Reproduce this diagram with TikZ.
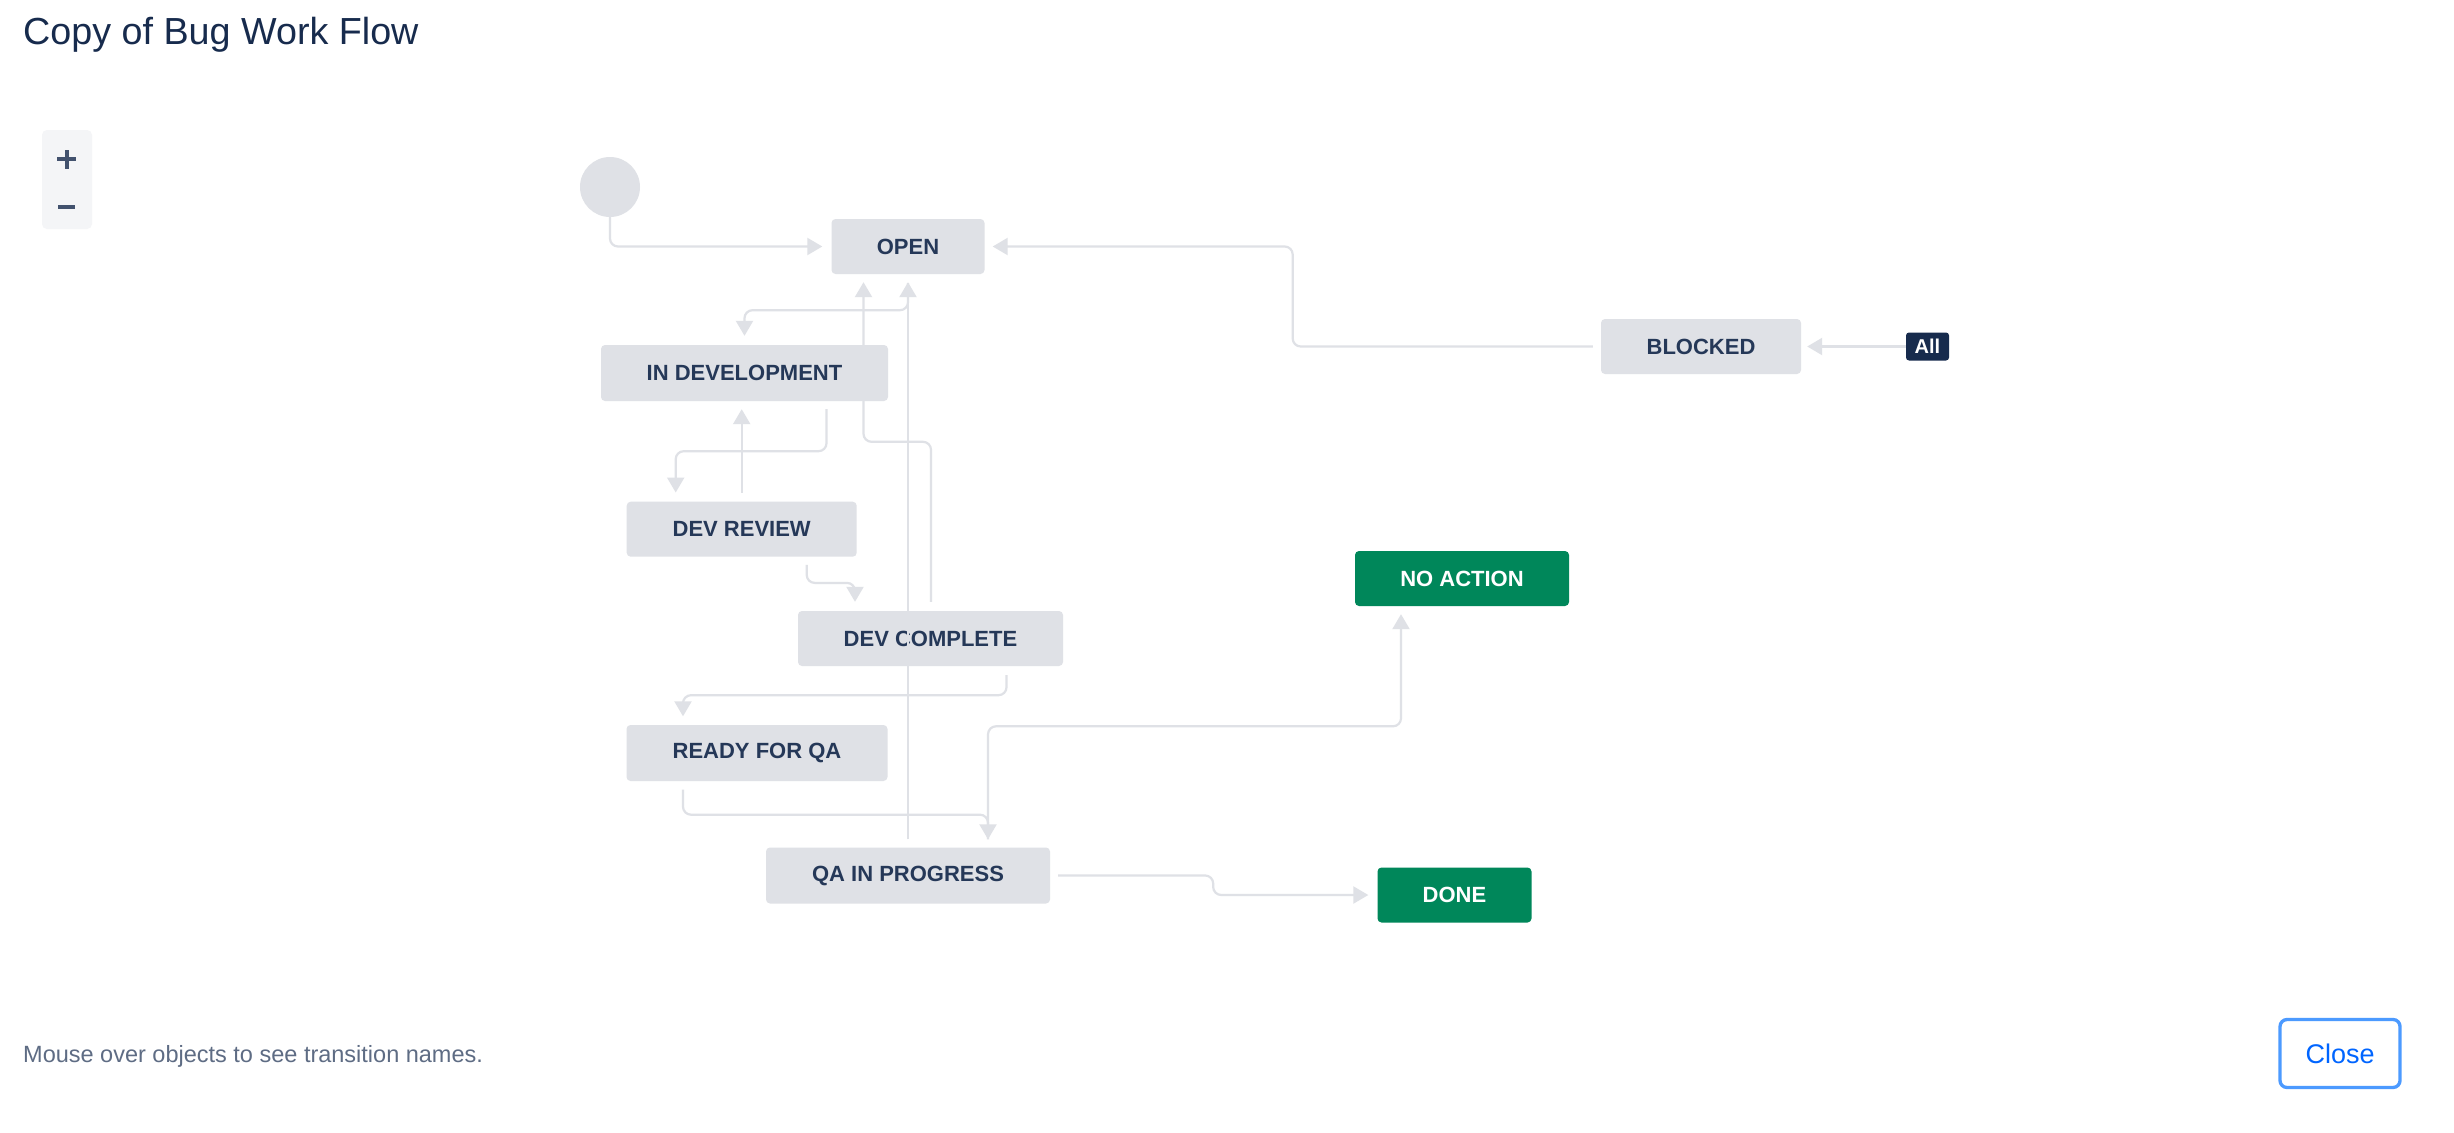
\documentclass[tikz,border=0pt]{standalone}
\usepackage{fontspec}
\setmainfont{Liberation Sans}
\usetikzlibrary{arrows.meta,calc}
\definecolor{boxgray}{HTML}{DFE1E6}
\definecolor{edgegray}{HTML}{DFE1E6}
\definecolor{navy}{HTML}{172B4D}
\definecolor{stext}{HTML}{253858}
\definecolor{jgreen}{HTML}{00875A}
\definecolor{hintgray}{HTML}{5E6C84}
\definecolor{btnblue}{HTML}{4C9AFF}
\definecolor{btntext}{HTML}{0065FF}
\definecolor{ctrlbg}{HTML}{F4F5F7}
\definecolor{ctrlfg}{HTML}{42526E}
\tikzset{
  status/.style={rectangle, rounded corners=4pt, fill=boxgray, text=stext,
    font=\fontsize{22pt}{26pt}\selectfont\bfseries, inner sep=0pt},
  final/.style={status, fill=jgreen, text=white},
  edge/.style={draw=edgegray, line width=2.2pt, rounded corners=8pt,
    -{Triangle[length=15pt,width=17pt]}},
}
\begin{document}
\begin{tikzpicture}[x=1pt,y=-1pt]
\fill[white] (0,0) rectangle (2454,1132);
\useasboundingbox (0,0) rectangle (2454,1132);

% header / footer
\node[anchor=base west, inner sep=0pt, text=navy, font=\fontsize{37.7pt}{44pt}\selectfont] (title) at (23,45) {Copy of Bug Work Flow};
\node[anchor=base west, inner sep=0pt, text=hintgray, font=\fontsize{23.5pt}{28pt}\selectfont] (hint) at (23,1062) {Mouse over objects to see transition names.};
\node[draw=btnblue, line width=3.3pt, rounded corners=7pt, minimum width=120pt, minimum height=68pt, inner sep=0pt, text=btntext, font=\fontsize{27pt}{32pt}\selectfont] (close) at (2340,1053.5) {Close};

% zoom controls
\fill[ctrlbg, rounded corners=5pt] (42,130) rectangle (92,229);
\draw[ctrlfg, line width=4pt] (57.3,159.3) -- (76,159.3) (66.7,150) -- (66.7,168.7);
\draw[ctrlfg, line width=3.6pt] (58.3,206.7) -- (75,206.7);

% nodes
\node[circle, fill=boxgray, minimum size=60pt, inner sep=0pt] (start) at (610,187) {};
\node[status, minimum width=153pt, minimum height=55pt] (open) at (908,246.5) {OPEN};
\node[status, minimum width=287pt, minimum height=56pt] (indev) at (744.5,373) {IN DEVELOPMENT};
\node[status, minimum width=230pt, minimum height=55pt] (devrev) at (741.7,529.2) {DEV REVIEW};
\node[status, minimum width=265pt, minimum height=55pt] (devc) at (930.5,638.5) {DEV COMPLETE};
\node[status, minimum width=261pt, minimum height=56pt] (readyqa) at (757,753) {READY FOR QA};
\node[status, minimum width=284pt, minimum height=56pt] (qa) at (908,875.5) {QA IN PROGRESS};
\node[final, minimum width=214pt, minimum height=55pt] (noact) at (1462,578.5) {NO ACTION};
\node[final, minimum width=154pt, minimum height=55pt] (done) at (1454.5,895) {DONE};
\node[status, minimum width=200pt, minimum height=55pt] (blocked) at (1701,346.5) {BLOCKED};
\node[rectangle, rounded corners=3pt, fill=navy, text=white, minimum width=43pt, minimum height=28pt, inner sep=0pt, font=\fontsize{20pt}{24pt}\selectfont\bfseries] (all) at (1927.5,346.5) {All};

% edges
\draw[edge] (start.south) |- ($(open.west)+(-9,0)$);
\draw[edge] ($(blocked.west)+(-8,0)$) -| ($(open.east)+(308,0)$) -- ($(open.east)+(8,0)$);
\draw[edge] (all.west) -- ($(blocked.east)+(6,0)$);
\draw[edge] ($(open.south)+(0,9)$) -- ($(open.south)+(0,36)$) -| ($(indev.north)+(0,-9)$);
\draw[edge] ($(devc.north)+(0.5,-9)$) -- ++(0,-160) -| ($(open.south)+(-44.5,8)$);
\draw[edge] ($(qa.north)+(0,-8)$) -- ($(open.south)+(0,8)$);
\draw[edge] ($(indev.south)+(82,8)$) -- ++(0,42) -| ($(devrev.north)+(-66,-9)$);
\draw[edge] ($(devrev.north)+(0,-9)$) -- ($(devrev.north |- indev.south)+(0,8)$);
\draw[edge] ($(devrev.south)+(65,8)$) -- ++(0,18) -| ($(devc.north)+(-75.5,-9)$);
\draw[edge] ($(devc.south)+(76,9)$) -- ++(0,20) -| ($(readyqa.north)+(-74,-8.5)$);
\draw[edge] ($(readyqa.south)+(-74,8.5)$) -- ++(0,25) -| ($(qa.north)+(80,-8)$);
\draw[edge] ($(qa.north)+(80,-8)$) -- ++(0,-113) -| ($(noact.south)+(-61,8)$);
\draw[edge] ($(qa.east)+(8,0)$) -- ++(155,0) |- ($(done.west)+(-9,0)$);
\end{tikzpicture}
\end{document}
